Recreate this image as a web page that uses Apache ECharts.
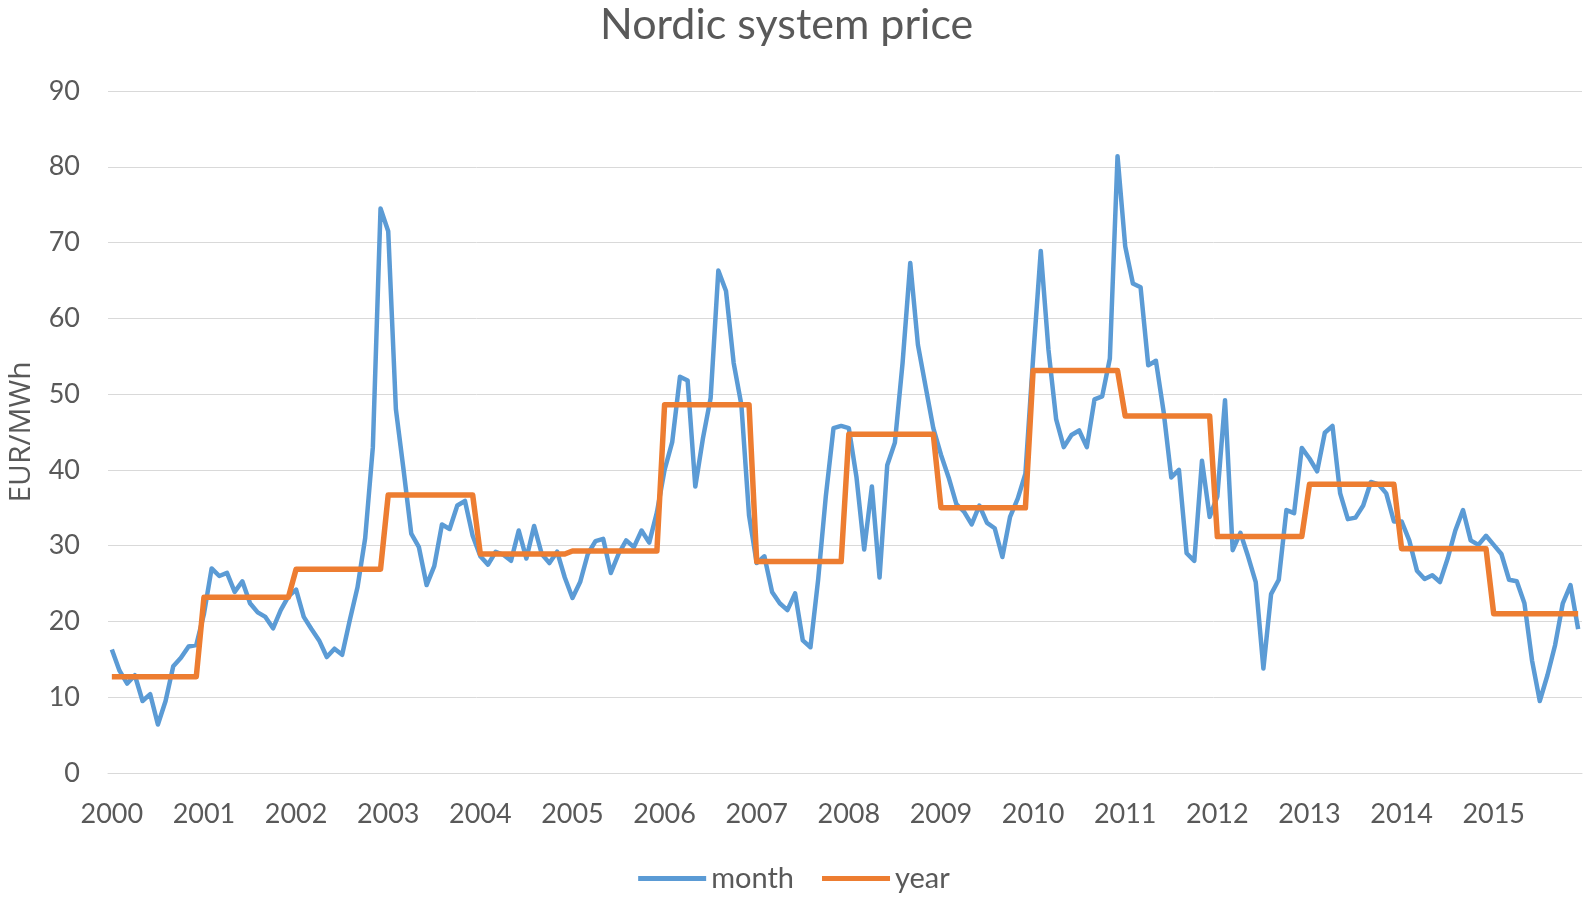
<!DOCTYPE html>
<html>
<head>
<meta charset="utf-8">
<title>Nordic system price</title>
<script src="https://cdn.jsdelivr.net/npm/echarts@6.0.0/dist/echarts.min.js"></script>
<style>
  html, body { margin: 0; padding: 0; background: #fff; }
  #chart { width: 1588px; height: 897px; }
</style>
</head>
<body>
<div id="chart"></div>
<script>
  // years on the axis, one label per January
  const years = ['2000', '2001', '2002', '2003', '2004', '2005', '2006', '2007',
    '2008', '2009', '2010', '2011', '2012', '2013', '2014', '2015']
  const monthNames = ['01', '02', '03', '04', '05', '06', '07', '08', '09', '10', '11', '12']

  // monthly system price, EUR/MWh, one row per year
  const monthPrice = [
    16.3, 13.5, 11.8, 12.9, 9.5, 10.4, 6.4, 9.5, 14.1, 15.2, 16.7, 16.9,
    21.0, 27.0, 26.0, 26.4, 23.9, 25.3, 22.4, 21.2, 20.6, 19.1, 21.5, 23.3,
    24.2, 20.6, 19.0, 17.5, 15.3, 16.4, 15.6, 20.2, 24.5, 31.0, 43.0, 74.5,
    71.5, 48.0, 40.0, 31.6, 29.8, 24.8, 27.3, 32.8, 32.2, 35.3, 35.9, 31.3,
    28.6, 27.5, 29.2, 28.8, 28.0, 32.0, 28.3, 32.6, 28.9, 27.7, 29.2, 25.8,
    23.1, 25.2, 28.9, 30.6, 30.9, 26.4, 28.9, 30.7, 29.8, 32.0, 30.4, 34.4,
    40.0, 43.7, 52.3, 51.8, 37.8, 44.2, 49.5, 66.3, 63.6, 54.1, 48.6, 34.0,
    27.7, 28.6, 23.9, 22.4, 21.5, 23.7, 17.5, 16.6, 25.5, 36.5, 45.5, 45.8,
    45.5, 39.0, 29.5, 37.8, 25.8, 40.6, 43.6, 54.1, 67.3, 56.5, 51.0, 45.5,
    42.0, 39.0, 35.5, 34.5, 32.8, 35.3, 33.0, 32.3, 28.5, 33.8, 36.2, 39.5,
    54.7, 68.9, 55.9, 46.7, 43.0, 44.6, 45.2, 43.0, 49.3, 49.7, 54.7, 81.4,
    69.5, 64.6, 64.1, 53.8, 54.4, 47.7, 39.0, 40.0, 29.0, 28.0, 41.2, 33.8,
    36.5, 49.2, 29.4, 31.7, 28.6, 25.2, 13.8, 23.6, 25.5, 34.7, 34.3, 42.9,
    41.5, 39.8, 44.9, 45.8, 36.9, 33.5, 33.7, 35.3, 38.4, 38.1, 36.9, 33.2,
    33.2, 30.7, 26.7, 25.6, 26.1, 25.2, 28.3, 32.0, 34.7, 30.7, 30.1, 31.3,
    30.1, 28.9, 25.5, 25.3, 22.4, 14.8, 9.5, 12.9, 16.9, 22.4, 24.8, 19.0
  ]

  // yearly average, drawn across the twelve months of its year
  const yearPrice = [12.7, 23.2, 26.9, 36.7, 28.9, 29.3, 48.6, 27.9,
    44.7, 35.0, 53.1, 47.1, 31.2, 38.1, 29.6, 21.0]

  const yTicks = [0, 10, 20, 30, 40, 50, 60, 70, 80, 90]

  const categories = []
  const yearSeries = []
  years.forEach((y, i) => {
    monthNames.forEach(m => {
      categories.push(y + '-' + m)
      yearSeries.push(yearPrice[i])
    })
  })

  const textColor = '#595959'
  const gridColor = '#d9d9d9'
  const isJanuary = (index) => index % 12 === 0

  const chart = echarts.init(document.getElementById('chart'), null, { renderer: 'canvas' })
  chart.setOption({
    animation: false,
    title: {
      text: 'Nordic system price',
      left: 595,
      top: -1,
      textStyle: { fontFamily: 'Lato', fontSize: 43, fontWeight: 'normal', color: textColor }
    },
    legend: {
      bottom: -1,
      left: 'center',
      icon: 'rect',
      itemWidth: 68,
      itemHeight: 5,
      itemGap: 28,
      textStyle: { fontFamily: 'Lato', fontSize: 29, color: textColor },
      data: ['month', 'year']
    },
    grid: { left: 108, right: 6, top: 91, bottom: 124, outerBoundsMode: 'none' },
    xAxis: {
      type: 'category',
      data: categories,
      boundaryGap: true,
      axisLine: { lineStyle: { color: gridColor, width: 1 } },
      axisTick: { interval: isJanuary, length: 9, lineStyle: { color: gridColor } },
      axisLabel: {
        interval: isJanuary,
        formatter: (v) => v.slice(0, 4),
        margin: 28,
        fontFamily: 'Lato',
        fontSize: 27,
        color: textColor
      },
      splitLine: { show: false }
    },
    yAxis: {
      type: 'value',
      min: yTicks[0],
      max: yTicks[yTicks.length - 1],
      interval: 10,
      name: 'EUR/MWh',
      nameLocation: 'middle',
      nameGap: 72,
      nameTextStyle: { fontFamily: 'Open Sans', fontSize: 30, color: textColor },
      axisLine: { show: false },
      axisTick: { show: false },
      axisLabel: { margin: 28, fontFamily: 'Lato', fontSize: 27, color: textColor },
      splitLine: { lineStyle: { color: gridColor, width: 1 } }
    },
    series: [
      {
        name: 'month',
        type: 'line',
        data: monthPrice,
        symbol: 'none',
        lineStyle: { width: 4.5, color: '#5b9bd5', join: 'round' },
        itemStyle: { color: '#5b9bd5' }
      },
      {
        name: 'year',
        type: 'line',
        data: yearSeries,
        symbol: 'none',
        lineStyle: { width: 5.5, color: '#ed7d31', join: 'round' },
        itemStyle: { color: '#ed7d31' }
      }
    ]
  })
</script>
</body>
</html>
